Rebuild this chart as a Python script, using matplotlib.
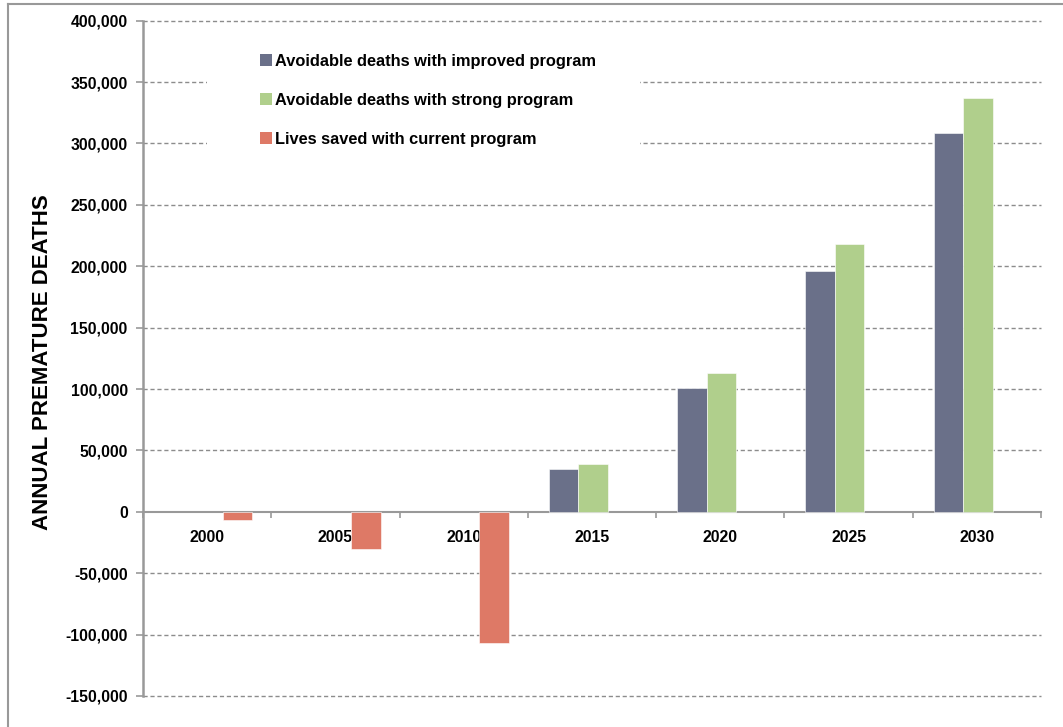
import matplotlib
matplotlib.use("Agg")
import matplotlib.pyplot as plt
import numpy as np
from matplotlib import font_manager
from matplotlib.lines import Line2D
from matplotlib.patches import Rectangle
from matplotlib.ticker import FuncFormatter, FixedLocator

years = ["2000", "2005", "2010", "2015", "2020", "2025", "2030"]
improved = [0, 0, 0, 34700, 100700, 195800, 308600]
strong = [0, 0, 0, 39100, 113200, 217800, 337400]
current = [-6800, -30400, -107000, 0, 0, 0, 0]
series_names = [
    "Avoidable deaths with improved program",
    "Avoidable deaths with strong program",
    "Lives saved with current program",
]
colors = ["#6a7089", "#b0cf8c", "#de7966"]
yticks = np.arange(-150000, 400001, 50000)

installed = {f.name for f in font_manager.fontManager.ttflist}
narrow = "Liberation Sans Narrow" if "Liberation Sans Narrow" in installed else "Liberation Sans"
plt.rcParams["font.family"] = ["Liberation Sans", "DejaVu Sans"]

fig = plt.figure(figsize=(10.63, 7.27), dpi=100)
ax = fig.add_axes([143 / 1063, 1 - 696 / 727, (1041 - 143) / 1063, (696 - 20.7) / 727])

x = np.arange(len(years))
w = 0.23
shift = 0.008
handles = []
for i, (vals, c) in enumerate(zip([improved, strong, current], colors)):
    vals = np.array(vals)
    keep = vals != 0
    ax.bar(x[keep] + (i - 1) * w + shift, vals[keep], width=w, color=c,
           edgecolor="white", linewidth=0.4, zorder=3)
    handles.append(Rectangle((0, 0), 1, 1, facecolor=c))

ax.set_xlim(-0.5, len(years) - 0.5)
ax.set_ylim(yticks[0], yticks[-1])

# y axis
ax.set_yticks(yticks)
ax.yaxis.set_major_formatter(FuncFormatter(lambda v, p: f"{int(v):,}"))
ax.tick_params(axis="y", direction="out", length=5, width=1.2, color="#999999",
               labelsize=11.3, pad=6)
for t in ax.get_yticklabels():
    t.set_fontweight("bold")
for v in yticks:
    if v != 0:
        ax.axhline(v, color="#8c8c8c", linewidth=1.0, linestyle=(0, (3, 2)),
                   zorder=0.5, clip_on=False)

# zero line as the category axis
ax.spines["bottom"].set_position(("data", 0))
ax.spines["bottom"].set_color("#999999")
ax.spines["bottom"].set_linewidth(1.5)
ax.spines["left"].set_color("#999999")
ax.spines["left"].set_linewidth(1.8)
ax.spines["top"].set_visible(False)
ax.spines["right"].set_visible(False)
ax.xaxis.set_major_locator(FixedLocator(np.arange(-0.5, len(years), 1.0)))
ax.xaxis.set_minor_locator(FixedLocator(x))
ax.set_xticklabels([])
ax.set_xticklabels(years, minor=True)
ax.tick_params(axis="x", which="major", direction="out", length=4, width=1.2, color="#999999")
ax.tick_params(axis="x", which="minor", length=0, pad=13, labelsize=11.3)
for t in ax.get_xticklabels(minor=True):
    t.set_fontweight("bold")

ax.set_ylabel("ANNUAL PREMATURE DEATHS", fontsize=16, fontweight="bold")
ax.yaxis.set_label_coords(-(143 - 53) / 898, 0.494)

# white block behind the legend
ax.add_patch(Rectangle(((207 - 143) / 898, 1 - (165 - 20.7) / 675.3),
                       (640 - 207) / 898, (165 - 30) / 675.3,
                       transform=ax.transAxes, facecolor="white", edgecolor="none", zorder=1))
fig.legend(handles, series_names, loc="upper left",
           bbox_to_anchor=(260 / 1063, 1 - 54 / 727), frameon=False,
           prop={"family": narrow, "weight": "bold", "size": 11.8},
           handlelength=0.72, handleheight=0.72, handletextpad=0.2,
           labelspacing=1.45, borderpad=0, borderaxespad=0)

# frame around the figure
fig.add_artist(Line2D([7.5 / 1063, 1], [1 - 3.5 / 727] * 2, transform=fig.transFigure,
                      color="#999999", linewidth=1.5))
fig.add_artist(Line2D([7.5 / 1063] * 2, [0, 1 - 3.5 / 727], transform=fig.transFigure,
                      color="#999999", linewidth=1.5))

fig.savefig("out.png", dpi=100, facecolor="white")
